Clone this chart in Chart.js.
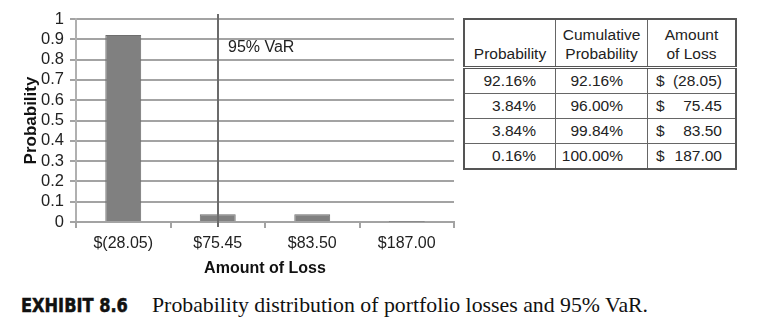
<!DOCTYPE html>
<html>
<head>
<meta charset="utf-8">
<script src="https://cdn.jsdelivr.net/npm/chart.js@4.4.1/dist/chart.umd.min.js"></script>
<style>
    html, body { margin: 0; padding: 0; background: #ffffff; }
    body { width: 757px; height: 325px; position: relative; overflow: hidden; }
    #chartBox { position: absolute; left: 0; top: 0; width: 460px; height: 285px; }
    table {
        position: absolute; left: 463px; top: 18px;
        border-collapse: collapse;
        font-family: "Liberation Sans", Arial, sans-serif;
        font-size: 15.5px; color: #222;
        border: 2px solid #555;
    }
    td, th { border: 1px solid #666; padding: 0; font-weight: normal; height: 24px; }
    th { height: 43px; line-height: 19px; vertical-align: bottom; padding-bottom: 3px; text-align: center; }
    thead tr { border-bottom: 3px double #555; }
    td.p { text-align: right; padding-right: 19px; }
    td.c { text-align: right; padding-right: 24px; }
    td.a { padding: 0 13px 0 8px; }
    td.a span { float: left; }
    td.a b { float: right; font-weight: normal; }
    .c1 { width: 90px; } .c2 { width: 91px; } .c3 { width: 87px; }
    .cap { position: absolute; top: 293px; white-space: nowrap; line-height: 24px; color: #111; }
    #capEx { left: 21px; font-family: "DejaVu Sans", sans-serif; font-stretch: condensed; font-weight: 900; font-size: 20px; transform: scaleX(0.9); transform-origin: left center; -webkit-text-stroke: 0.5px #111; }
    #capTx { left: 152px; font-family: "Liberation Serif", serif; font-size: 21.8px; }
</style>
</head>
<body>
<div id="chartBox"><canvas id="lossChart"></canvas></div>
<table id="lossTable">
    <thead>
        <tr><th class="c1">Probability</th><th class="c2">Cumulative<br>Probability</th><th class="c3">Amount<br>of Loss</th></tr>
    </thead>
    <tbody></tbody>
</table>
<div class="cap" id="capEx">EXHIBIT 8.6</div>
<div class="cap" id="capTx">Probability distribution of portfolio losses and 95% VaR.</div>
<script>
// Chart data
const lossLabels = ['$(28.05)', '$75.45', '$83.50', '$187.00'];
const probabilities = [0.9216, 0.0384, 0.0384, 0.0016];
const cumulativeLabels = ['92.16%', '96.00%', '99.84%', '100.00%'];
const probabilityLabels = ['92.16%', '3.84%', '3.84%', '0.16%'];
const lossAmounts = ['(28.05)', '75.45', '83.50', '187.00'];
const varIndex = 1;
const varLabel = '95% VaR';
const varLabelLevel = 0.86;

// Table rows
const tbody = document.querySelector('#lossTable tbody');
probabilityLabels.forEach((p, i) => {
    const tr = document.createElement('tr');
    tr.innerHTML = `<td class="p">${p}</td><td class="c">${cumulativeLabels[i]}</td>` +
        `<td class="a"><span>$</span><b>${lossAmounts[i]}</b></td>`;
    tbody.appendChild(tr);
});

const fontFamily = '"Liberation Sans", Arial, sans-serif';

// VaR marker line
const varLine = {
    id: 'varLine',
    afterDatasetsDraw(chart) {
        const { ctx, chartArea, scales } = chart;
        const x = Math.round(scales.x.getPixelForValue(varIndex));
        ctx.save();
        ctx.strokeStyle = '#6b6b6b';
        ctx.lineWidth = 2;
        ctx.beginPath();
        ctx.moveTo(x, chartArea.top - 5);
        ctx.lineTo(x, chartArea.bottom + 5);
        ctx.stroke();
        ctx.fillStyle = '#222';
        ctx.font = '16px ' + fontFamily;
        ctx.textBaseline = 'middle';
        ctx.fillText(varLabel, x + 10, scales.y.getPixelForValue(varLabelLevel));
        ctx.restore();
    }
};

Chart.defaults.color = '#222';
new Chart(document.getElementById('lossChart'), {
    type: 'bar',
    data: {
        labels: lossLabels,
        datasets: [{
            data: probabilities,
            backgroundColor: '#808080',
            borderColor: '#6e6e6e',
            borderWidth: 1,
            barPercentage: 0.38,
            categoryPercentage: 1
        }]
    },
    options: {
        responsive: true,
        maintainAspectRatio: false,
        animation: false,
        layout: { padding: { top: 19, right: 6, left: 0, bottom: 0 } },
        plugins: { legend: { display: false }, tooltip: { enabled: false } },
        scales: {
            y: {
                min: 0,
                max: 1,
                afterFit(scale) { scale.width = 76; },
                ticks: {
                    stepSize: 0.1, autoSkip: false, padding: 6, color: '#222',
                    font: { family: fontFamily, size: 16.5 },
                    callback: v => String(Math.round(v * 10) / 10)
                },
                grid: { color: '#a3a3a3', lineWidth: 2, tickLength: 6 },
                border: { color: '#b0b0b0', width: 2 },
                title: { display: true, text: 'Probability', font: { family: fontFamily, size: 17, weight: 'bold' }, color: '#111', padding: { top: 21, bottom: 0 } }
            },
            x: {
                afterFit(scale) { scale.height = 63; },
                ticks: { font: { family: fontFamily, size: 16 }, color: '#222', padding: 6 },
                grid: { drawOnChartArea: false, offset: true, tickLength: 6, color: '#a3a3a3', lineWidth: 2 },
                border: { color: '#a3a3a3', width: 2 },
                title: { display: true, text: 'Amount of Loss', font: { family: fontFamily, size: 16, weight: 'bold' }, color: '#111', padding: { top: 0, bottom: 7 } }
            }
        }
    },
    plugins: [varLine]
});
</script>
</body>
</html>
